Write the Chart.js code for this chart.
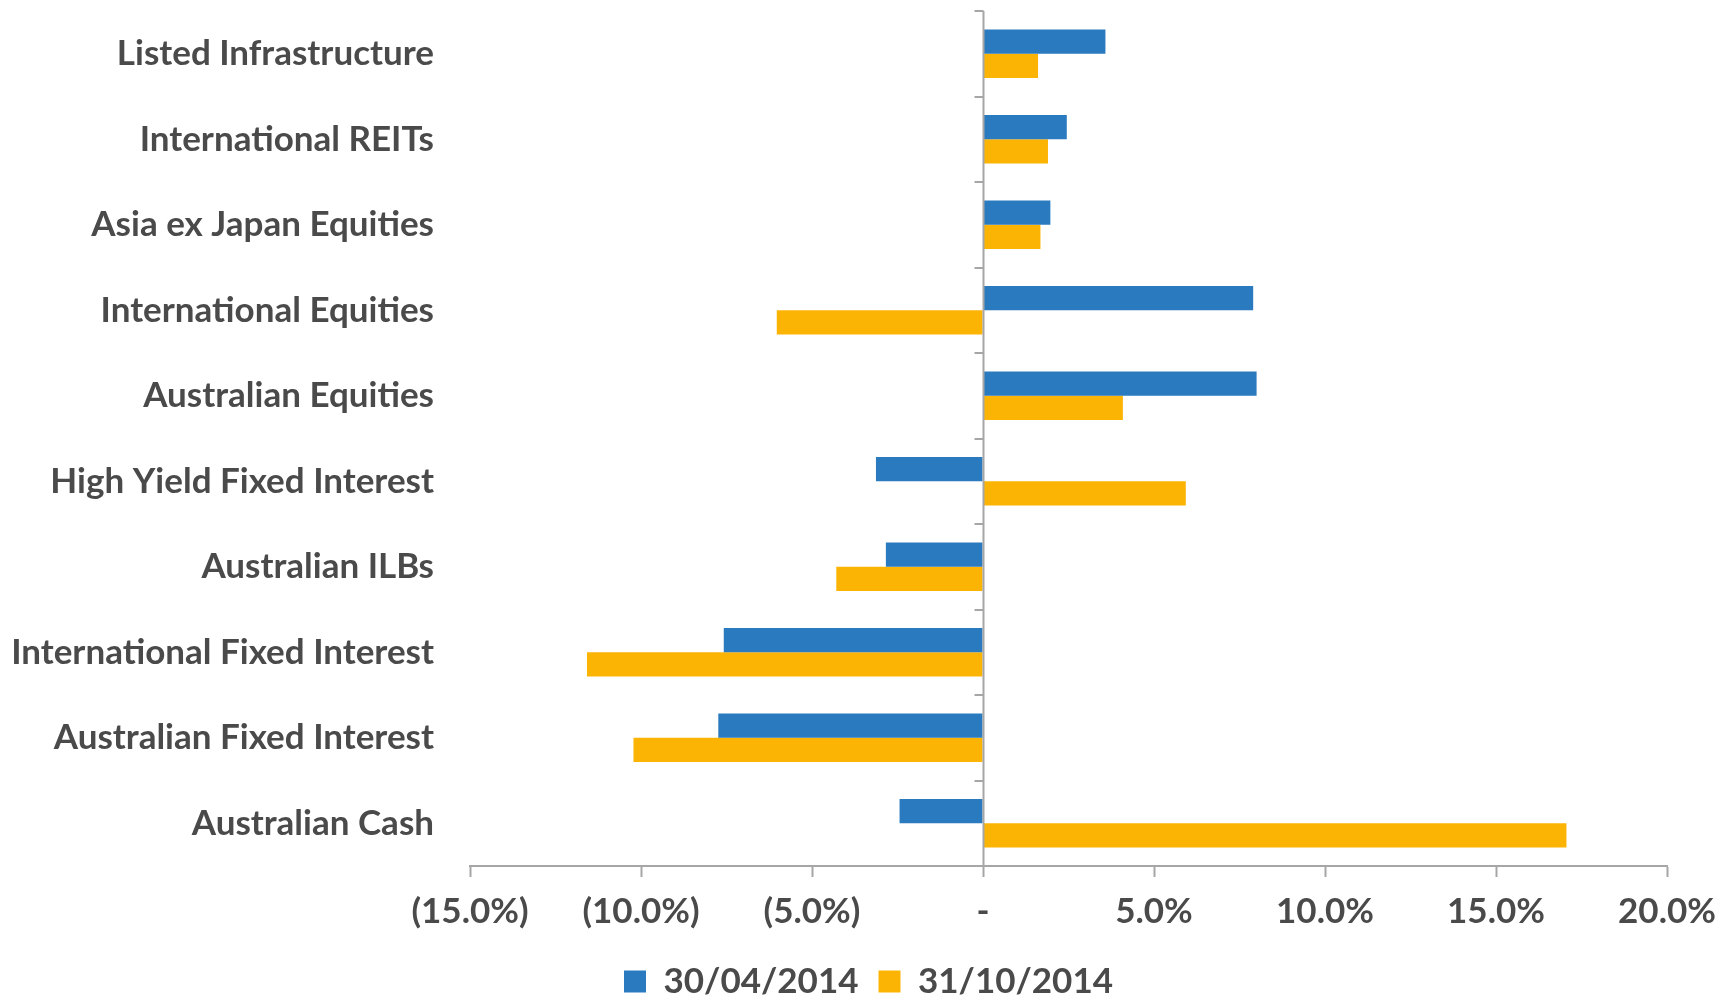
<!DOCTYPE html>
<html>
<head>
<meta charset="utf-8">
<script src="https://cdn.jsdelivr.net/npm/chart.js@4.4.1/dist/chart.umd.min.js"></script>
<style>
  html, body { margin: 0; padding: 0; background: #fff; }
  #wrap { width: 1729px; height: 1001px; position: relative; }
</style>
</head>
<body>
<div id="wrap"><canvas id="allocationChart"></canvas></div>
<script>
const categories = [
  "Listed Infrastructure",
  "International REITs",
  "Asia ex Japan Equities",
  "International Equities",
  "Australian Equities",
  "High Yield Fixed Interest",
  "Australian ILBs",
  "International Fixed Interest",
  "Australian Fixed Interest",
  "Australian Cash",
];

// values in percent
const april2014 = [3.58, 2.45, 1.97, 7.9, 8.0, -3.13, -2.84, -7.58, -7.74, -2.44];
const october2014 = [1.61, 1.9, 1.68, -6.03, 4.09, 5.93, -4.29, -11.58, -10.22, 17.06];

const xMin = -15;
const xMax = 20;
const xStep = 5;

const textColor = "#4a4a4a";
const axisColor = "#a6a6a6";
const labelFont = { family: "Lato", weight: "bold", size: 35 };

const formatPct = (v) => {
  if (v === 0) return "-";
  if (v < 0) return "(" + Math.abs(v).toFixed(1) + "%)";
  return v.toFixed(1) + "%";
};

// vertical axis line at zero, with tick marks between categories
const zeroAxisPlugin = {
  id: "zeroAxis",
  afterDatasetsDraw(chart) {
    const { ctx, scales, chartArea } = chart;
    const x0 = Math.round(scales.x.getPixelForValue(0)) + 0.5;
    ctx.save();
    ctx.strokeStyle = axisColor;
    ctx.lineWidth = 2;
    ctx.beginPath();
    ctx.moveTo(x0, chartArea.top);
    ctx.lineTo(x0, chartArea.bottom);
    for (let i = 0; i <= categories.length; i++) {
      const y = Math.round(scales.y.getPixelForValue(i - 0.5));
      ctx.moveTo(x0 - 9, y);
      ctx.lineTo(x0, y);
    }
    ctx.stroke();
    ctx.restore();
  },
};

const allocationCtx = document
  .getElementById("allocationChart")
  .getContext("2d");
const allocationChart = new Chart(allocationCtx, {
  type: "bar",
  data: {
    labels: categories,
    datasets: [
      {
        label: "30/04/2014",
        data: april2014,
        backgroundColor: "#2A7ABF",
        categoryPercentage: 0.57,
        barPercentage: 1.0,
      },
      {
        label: "31/10/2014",
        data: october2014,
        backgroundColor: "#FCB404",
        categoryPercentage: 0.57,
        barPercentage: 1.0,
      },
    ],
  },
  options: {
    indexAxis: "y",
    responsive: true,
    maintainAspectRatio: false,
    animation: false,
    layout: {
      padding: { top: 11, right: 0, left: 8, bottom: 0 },
    },
    scales: {
      x: {
        min: xMin,
        max: xMax,
        ticks: {
          stepSize: xStep,
          color: textColor,
          font: labelFont,
          padding: 14,
          maxRotation: 0,
          callback: (value) => formatPct(value),
        },
        grid: {
          display: true,
          drawOnChartArea: false,
          drawTicks: true,
          tickLength: 11,
          tickColor: axisColor,
          tickWidth: 2,
        },
        border: { display: true, color: axisColor, width: 2 },
        afterFit: (scale) => {
          scale.height = 78;
          scale.paddingRight = 62;
        },
      },
      y: {
        ticks: {
          color: textColor,
          font: labelFont,
          padding: 28,
        },
        grid: { display: false },
        border: { display: false },
        afterFit: (scale) => {
          scale.width = 462;
          scale.paddingTop = 0;
          scale.paddingBottom = 0;
        },
      },
    },
    plugins: {
      legend: {
        position: "bottom",
        maxHeight: 57,
        labels: {
          color: textColor,
          font: labelFont,
          boxWidth: 22,
          boxHeight: 22,
          padding: 20,
        },
      },
      tooltip: { enabled: false },
    },
  },
  plugins: [zeroAxisPlugin],
});
</script>
</body>
</html>
